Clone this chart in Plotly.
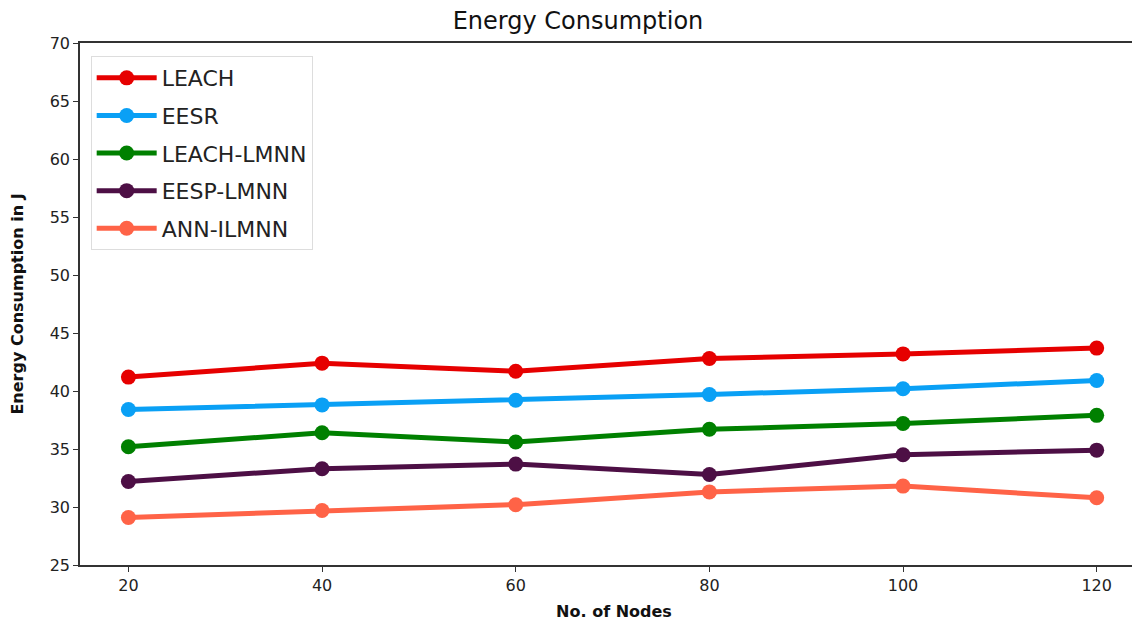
import plotly.graph_objects as go

nodes = [20, 40, 60, 80, 100, 120]
leach = [41.2, 42.4, 41.7, 42.8, 43.2, 43.7]
eesr = [38.4, 38.8, 39.2, 39.7, 40.2, 40.9]
leach_lmnn = [35.2, 36.4, 35.6, 36.7, 37.2, 37.9]
eesp_lmnn = [32.2, 33.3, 33.7, 32.8, 34.5, 34.9]
ann_ilmnn = [29.1, 29.7, 30.2, 31.3, 31.8, 30.8]

series = [
    ("LEACH", leach, "#e60000"),
    ("EESR", eesr, "#0aa0f5"),
    ("LEACH-LMNN", leach_lmnn, "#008000"),
    ("EESP-LMNN", eesp_lmnn, "#4d0f45"),
    ("ANN-ILMNN", ann_ilmnn, "#ff6347"),
]

fig = go.Figure()
for name, vals, col in series:
    fig.add_trace(go.Scatter(x=nodes, y=vals, name=name, mode="lines+markers",
                             legendgroup=name,
                             line=dict(color=col, width=5),
                             marker=dict(color=col, size=15)))

axis_common = dict(showline=True, linecolor="#333333", linewidth=1.5, ticks="outside",
                   ticklen=5, tickcolor="#333333", showgrid=False, zeroline=False,
                   automargin=False,
                   tickfont=dict(family="DejaVu Sans", size=16, color="#222222"))

fig.update_layout(
    width=1140, height=622,
    paper_bgcolor="white", plot_bgcolor="white",
    margin=dict(l=72, r=0, t=35, b=65),
    title=dict(text="Energy Consumption", x=0.5, xanchor="center", y=0.979, yanchor="middle",
               font=dict(family="DejaVu Sans", size=24, color="#111111")),
    xaxis=dict(range=[15, 125.3], tickvals=nodes, mirror=True,
               title=dict(text="<b>No. of Nodes</b>", standoff=12,
                          font=dict(family="DejaVu Sans", size=16, color="#111111")),
               **axis_common),
    yaxis=dict(range=[25, 70], dtick=5, mirror=False,
               title=dict(text="<b>Energy Consumption in J</b>", standoff=22,
                          font=dict(family="DejaVu Sans", size=16, color="#111111")),
               **axis_common),
    legend=dict(x=0.01, y=0.975, xanchor="left", yanchor="top",
                bgcolor="rgba(255,255,255,0.9)", bordercolor="#dddddd", borderwidth=1,
                font=dict(family="DejaVu Sans", size=22, color="#222222"),
                itemwidth=60, tracegroupgap=6),
    showlegend=True,
)

fig.write_html("out.html")
